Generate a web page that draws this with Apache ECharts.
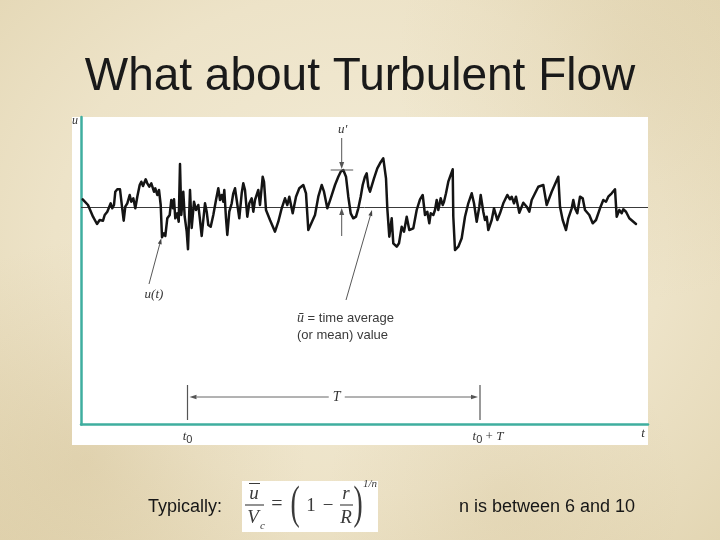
<!DOCTYPE html>
<html><head><meta charset="utf-8">
<script src="https://cdn.jsdelivr.net/npm/echarts@6/dist/echarts.min.js"></script>
<style>
html,body{margin:0;padding:0;width:720px;height:540px;overflow:hidden;}
body{background:
 radial-gradient(circle at 12% 85%, rgba(190,165,110,0.22), rgba(190,165,110,0) 28%),
 radial-gradient(circle at 88% 12%, rgba(200,180,130,0.18), rgba(200,180,130,0) 30%),
 radial-gradient(circle at 70% 92%, rgba(195,172,120,0.18), rgba(195,172,120,0) 25%),
 radial-gradient(ellipse at 50% 45%, #f3ecd7 0%, #ede3c8 60%, #e3d6b3 100%);}
#c{width:720px;height:540px;}
</style></head><body><div id="c"></div><script>
// ---- data: velocity trace u(t), deviation from mean (arbitrary units) ----
const tVals = [7.7,13,18,22,24.7,26.3,28,29.7,32.3,33.7,35.7,37.3,39,40.3,42.3,45,47,48.7,50.3,52.3,54.7,56.3,58.3,60.3,62.3,64.7,66.3,68,70.7,72.3,74.3,76.3,79,80.3,82.3,84,85.7,87,89,90.3,92.3,94.7,96.3,98,99,100.3,102.3,103.7,105,106.3,108.3,109.7,111.7,113,115,116.7,119,121,123.3,125,126.7,128.3,130,131.7,133.3,135.7,138.3,141,143.3,145,146.7,148.3,149.3,151,152.3,154.3,156.7,158.3,160,161.7,164.3,166.7,168.3,170,172.3,174.3,176.7,178.3,180,183.3,185,187.7,189,191,195,200,203.3,206.7,210,212.3,214.3,217.7,221,224.3,228.3,231,233.3,240,243.3,246.7,249,252.3,255.7,260,263.3,265.7,268.3,271,273.3,275.7,278.3,281,283.3,285.7,287.7,290,291.7,293.3,295,296.7,299,302.3,305,308.3,311,312.3,314.3,316.7,318.3,321.7,324,326.7,329,331.7,334.3,338.3,341.7,345,347.7,349,350,352.3,354.3,355.7,358.3,360,361.7,363.3,365.7,367.7,369,371,373.3,375.7,377.7,378.3,380,383.3,386.7,390,393.3,396.7,399,401.7,404.3,405.7,408.3,410,411.7,413.3,416.7,419,422.3,425,428.3,432.3,435,436.7,439,441,444.3,448.3,451.7,454.3,456.7,463.3,468.3,471.7,476.7,483.3,485,487.7,491,493.3,496.7,498.3,500,502.3,505,507.7,510,514.3,517.7,521,525,528.3,531,533.3,536.7,540,541.7,544.3,546.7,548.3,551,552.3,554.3,561];
const uVals = [7.7,2,-9.7,-17,-13,-11.3,-13.7,-8,-4.7,-6.3,3.7,-1.3,2,15.3,17.7,17.7,0.3,-13.7,0.3,3.7,12,5.3,8.7,-1.3,10.3,22,25.3,21,27.7,23.7,20.3,23.7,15.3,18.7,12,17,2,-30.3,-26.3,-29,-11.3,-8,7,-1.3,7.7,-11.3,-6.3,-14.7,43,-8,15.3,-9.7,-24.7,-42.3,17,-21,5.3,-3,2,-13,-29,-13,3.7,-4.7,-18,-19.7,-8,7,18.7,7,12,5.3,17,-11.3,-28,-4.7,3.7,13.7,18.7,7,-11.3,13.7,23.7,17,-9.7,3.7,8.7,-4.7,7,17,2,30.3,25.3,-3,-13,-24.7,-14.7,-1.3,8.7,2,10.3,-6.3,10.3,18.7,22,13.7,-23,-8,10.3,22,15.3,-1.3,8.7,22,30.3,35.3,37,30.3,10.3,-6.3,-11.3,-9.7,-1.3,10.3,22,30.3,33.7,20.3,15.3,17,28.7,38.7,43.7,48.7,28.7,-1.3,-29.7,-11.3,-36.3,-39.7,-36.3,-19.7,-24.7,-9.7,-23,-21.3,-3,7.7,12,13.7,-8,-4.7,-16.3,-6.3,-8,-3,7,-3,8.7,2,5.3,13.7,25.3,32,37.7,-9.7,-43,-39.7,-31.3,-9.7,3.7,13.7,3.7,-14.7,0.3,12,-4.7,-13,-9.7,-23,-13,-1.3,-13,-6.3,3.7,12,7.7,10.3,3.7,10.3,-5.7,4.3,0.3,-4.7,7,20.3,22,2,15.3,30.3,0.3,-13,-23,-11.3,-1.3,7,-1.3,-6.3,10.3,8.7,-3,-8,-16.3,-13,-1.3,7,5.3,10.3,13.7,17.7,-9.7,-3,-6.3,-2.3,-4.7,-6.3,-11.3,-17];
const meanValue = 0;
const tMin = 6, tMax = 573, uMin = -217.5, uMax = 90;
// annotation values (data units)
const t0 = 112.5, t0PlusT = 405;        // averaging window
const uPrimePeakT = 266.7, uPrimePeakU = 37;
const uTLeader = [[74, -77], [86.3, -31.3]];
const meanLeader = [[271, -93], [297, -3]];

const TEAL = '#3fae9f';
const chart = echarts.init(document.getElementById('c'));
chart.setOption({
  backgroundColor: 'transparent',
  animation: false,
  grid: {left: 81, right: 72, top: 117, bottom: 115.5},
  xAxis: {type: 'value', min: tMin, max: tMax,
    axisLine: {show: true, onZero: false, lineStyle: {color: TEAL, width: 2.5}},
    axisTick: {show: false}, axisLabel: {show: false}, splitLine: {show: false}},
  yAxis: {type: 'value', min: uMin, max: uMax,
    axisLine: {show: true, onZero: false, lineStyle: {color: TEAL, width: 2.5}},
    axisTick: {show: false}, axisLabel: {show: false}, splitLine: {show: false}},
  series: [{
    type: 'line', name: 'u(t)', z: 5,
    data: tVals.map((t, i) => [t, uVals[i]]),
    showSymbol: false, symbol: 'none',
    lineStyle: {color: '#141414', width: 2.5, join: 'round', cap: 'round'},
    markLine: {silent: true, symbol: 'none', label: {show: false},
      lineStyle: {color: '#3a3a3a', width: 1, type: 'solid'},
      data: [{yAxis: meanValue}]}
  }]
});

const P = (t, u) => chart.convertToPixel({seriesIndex: 0}, [t, u]);
function arrow(p1, p2, color, lw, hl, hw) {
  const dx = p2[0]-p1[0], dy = p2[1]-p1[1], L = Math.hypot(dx, dy);
  const ux = dx/L, uy = dy/L;
  const b = [p2[0]-ux*hl, p2[1]-uy*hl];
  return [
    {type: 'line', z: 20, shape: {x1: p1[0], y1: p1[1], x2: b[0], y2: b[1]}, style: {stroke: color, lineWidth: lw}},
    {type: 'polygon', z: 20, shape: {points: [p2, [b[0]-uy*hw, b[1]+ux*hw], [b[0]+uy*hw, b[1]-ux*hw]]}, style: {fill: color}}
  ];
}
const G = [];
// white panel
G.push({type: 'rect', z: -100, shape: {x: 72, y: 117, width: 576, height: 328}, style: {fill: '#ffffff'}});
// u' marker
const peak = P(uPrimePeakT, uPrimePeakU);
const hl1 = P(uPrimePeakT - 11, uPrimePeakU), hl2 = P(uPrimePeakT + 11.5, uPrimePeakU);
G.push({type: 'line', z: 20, shape: {x1: hl1[0], y1: hl1[1], x2: hl2[0], y2: hl2[1]}, style: {stroke: '#555', lineWidth: 1}});
G.push(...arrow(P(uPrimePeakT, 69), [peak[0], peak[1]-1], '#555', 1, 7, 2.5));
G.push(...arrow(P(uPrimePeakT, -29), P(uPrimePeakT, -1), '#555', 1, 7, 2.5));
// leaders
G.push(...arrow(P(...uTLeader[0]), P(...uTLeader[1]), '#444', 0.9, 6, 2));
G.push(...arrow(P(...meanLeader[0]), P(...meanLeader[1]), '#444', 0.9, 6, 2));
// T window
const tickTop = -178, tickBot = -213, tLine = -190;
[t0, t0PlusT].forEach(t => { const a = P(t, tickTop), b = P(t, tickBot);
  G.push({type: 'line', z: 20, shape: {x1: a[0], y1: a[1], x2: b[0], y2: b[1]}, style: {stroke: '#555', lineWidth: 1.2}}); });
const tMid = (t0 + t0PlusT) / 2 + 3;
G.push(...arrow(P(tMid - 8, tLine), P(t0 + 2, tLine), '#555', 0.9, 7, 2.3));
G.push(...arrow(P(tMid + 8, tLine), P(t0PlusT - 2, tLine), '#555', 0.9, 7, 2.3));
const serif = "'Liberation Serif','DejaVu Serif',serif";
const sans = "'Liberation Sans',Arial,sans-serif";
function txt(x, y, text, opts, extra) {
  return Object.assign({type: 'text', z: 30, x: x, y: y,
    style: Object.assign({text: text, fill: '#333', font: 'italic 13px ' + serif, textAlign: 'center', textVerticalAlign: 'middle'}, opts || {})}, extra || {});
}
const pT = P(tMid, tLine);
G.push(txt(pT[0], pT[1], 'T', {font: 'italic 14px ' + serif}));
// axis letters
G.push(txt(75, 121, 'u', {font: 'italic 12px ' + serif}));
G.push(txt(643, 434, 't', {font: 'italic 13px ' + serif}));
const pu = P(uPrimePeakT, 77);
G.push(txt(pu[0] + 1, pu[1], 'u′', {font: 'italic 13px ' + serif}));
const put = P(uTLeader[0][0], uTLeader[0][1] - 11);
G.push(txt(put[0] + 5, put[1], 'u(t)', {font: 'italic 13px ' + serif}));
// mean label
const pm = P(meanLeader[0][0] - 49, meanLeader[0][1] - 10);
G.push({type: 'text', z: 30, x: pm[0], y: pm[1], style: {
  text: '{a|ū} = time average\n(or mean) value', font: '13px ' + sans, fill: '#3a3a3a', lineHeight: 17,
  textVerticalAlign: 'top', rich: {a: {font: 'italic 14px ' + serif, fill: '#3a3a3a'}}}});
// t0 labels
const pt0 = P(t0, -230), pt1 = P(t0PlusT + 8, -230);
G.push({type: 'text', z: 30, x: pt0[0], y: pt0[1], style: {text: '{i|t}{s|0}', textAlign: 'center', textVerticalAlign: 'middle',
  rich: {i: {font: 'italic 13px ' + serif, fill: '#333'}, s: {font: '11px ' + sans, fill: '#333', padding: [6, 0, 0, 0]}}}});
G.push({type: 'text', z: 30, x: pt1[0], y: pt1[1], style: {text: '{i|t}{s|0}{o| + }{i|T}', textAlign: 'center', textVerticalAlign: 'middle',
  rich: {i: {font: 'italic 13px ' + serif, fill: '#333'}, s: {font: '11px ' + sans, fill: '#333', padding: [6, 0, 0, 0]}, o: {font: '13px ' + serif, fill: '#333'}}}});
// title
G.push({type: 'text', z: 30, x: 360, y: 77, style: {text: 'What about Turbulent Flow', font: '46px ' + sans, fill: '#1a1a1a', textAlign: 'center', textVerticalAlign: 'middle'}});
// bottom texts
G.push({type: 'text', z: 30, x: 148, y: 507, style: {text: 'Typically:', font: '18px ' + sans, fill: '#161616', textVerticalAlign: 'middle'}});
G.push({type: 'text', z: 30, x: 459, y: 507, style: {text: 'n is between 6 and 10', font: '18px ' + sans, fill: '#161616', textVerticalAlign: 'middle'}});
// formula box
const FC = '#3a3a3a';
G.push({type: 'rect', z: 25, shape: {x: 242, y: 481, width: 136, height: 51}, style: {fill: '#ffffff'}});
G.push(txt(254, 494, 'u', {font: 'italic 19px ' + serif, fill: FC}));
G.push({type: 'line', z: 30, shape: {x1: 249, y1: 483.5, x2: 260, y2: 483.5}, style: {stroke: FC, lineWidth: 1}});
G.push({type: 'line', z: 30, shape: {x1: 245, y1: 505, x2: 264, y2: 505}, style: {stroke: FC, lineWidth: 1.1}});
G.push(txt(253, 518, 'V', {font: 'italic 19px ' + serif, fill: FC}));
G.push(txt(262.5, 526, 'c', {font: 'italic 11px ' + serif, fill: FC}));
G.push(txt(277, 505, '=', {font: '20px ' + serif, fill: FC}));
G.push(txt(0, 0, '(', {font: '46px ' + serif, fill: FC}, {x: 295, y: 506, scaleX: 0.6}));
G.push(txt(311, 506, '1', {font: '19px ' + serif, fill: FC}));
G.push(txt(328, 506, '−', {font: '19px ' + serif, fill: FC}));
G.push(txt(346, 494, 'r', {font: 'italic 19px ' + serif, fill: FC}));
G.push({type: 'line', z: 30, shape: {x1: 340, y1: 505, x2: 353, y2: 505}, style: {stroke: FC, lineWidth: 1.1}});
G.push(txt(346, 518, 'R', {font: 'italic 19px ' + serif, fill: FC}));
G.push(txt(0, 0, ')', {font: '46px ' + serif, fill: FC}, {x: 358, y: 506, scaleX: 0.6}));
G.push(txt(370, 484, '1/n', {font: 'italic 11px ' + serif, fill: FC}));
chart.setOption({graphic: {elements: G}});
</script></body></html>
